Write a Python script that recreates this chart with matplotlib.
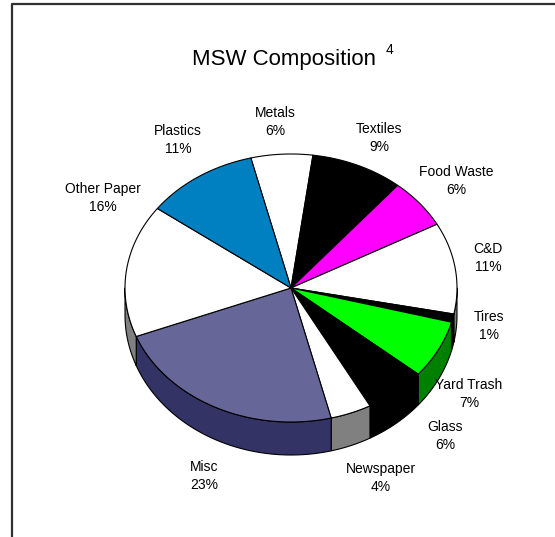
import numpy as np
import matplotlib
matplotlib.use("Agg")
import matplotlib.pyplot as plt
from matplotlib.patches import Polygon

plt.rcParams['font.family'] = ['Liberation Sans', 'DejaVu Sans']

# data
categories = ['Metals', 'Textiles', 'Food Waste', 'C&D', 'Tires', 'Yard Trash',
              'Glass', 'Newspaper', 'Misc', 'Other Paper', 'Plastics']
shares = [6, 9, 6, 11, 1, 7, 6, 4, 23, 16, 11]
top_colors = ['#FFFFFF', '#000000', '#FF00FF', '#FFFFFF', '#000000', '#00FF00',
              '#000000', '#FFFFFF', '#666699', '#FFFFFF', '#0080C0']
side_colors = ['#808080', '#000000', '#800080', '#808080', '#000000', '#008000',
               '#000000', '#808080', '#333366', '#808080', '#004060']

# label placement (pixels, centre of the two-line label)
label_xy = [(275, 122), (379, 138), (456, 181), (488, 258), (489, 326), (469, 394),
            (445, 436), (381, 478), (204, 476), (103, 198), (178, 140)]

# pie geometry in pixels
cx, cy, rx, ry = 291, 288, 166, 134
start = 104.0


def depth(t):
    return 27 + 6 * np.clip(-np.sin(t), 0, 1)


def rim(t, drop=False):
    x = cx + rx * np.cos(t)
    y = cy - ry * np.sin(t)
    if drop:
        y = y + depth(t)
    return x, y


fig = plt.figure(figsize=(5.55, 5.37), dpi=100)
ax = fig.add_axes([0, 0, 1, 1])
ax.set_xlim(0, 555)
ax.set_ylim(537, 0)
ax.axis('off')

# outer frame
ax.plot([12, 12, 560], [540, 4, 4], color='#303030', lw=1.6, solid_capstyle='butt')

edges = start - np.concatenate([[0], np.cumsum(shares)]) / sum(shares) * 360

# side walls (front half only)
for i in range(len(shares)):
    a, b = edges[i], edges[i + 1]
    for k in (-360, 0, 360):
        lo = max(b, -180 + k)
        hi = min(a, 0 + k)
        if hi - lo <= 0:
            continue
        t = np.radians(np.linspace(hi, lo, 80))
        x1, y1 = rim(t)
        x2, y2 = rim(t[::-1], drop=True)
        pts = np.column_stack([np.concatenate([x1, x2]), np.concatenate([y1, y2])])
        ax.add_patch(Polygon(pts, closed=True, facecolor=side_colors[i],
                             edgecolor='black', lw=0.8, joinstyle='round'))

# top faces
for i in range(len(shares)):
    t = np.radians(np.linspace(edges[i], edges[i + 1], 120))
    x, y = rim(t)
    pts = np.column_stack([np.concatenate([[cx], x]), np.concatenate([[cy], y])])
    ax.add_patch(Polygon(pts, closed=True, facecolor=top_colors[i],
                         edgecolor='black', lw=0.8, joinstyle='round'))

# labels
for name, val, (lx, ly) in zip(categories, shares, label_xy):
    ax.text(lx, ly, f'{name}\n{val}%', ha='center', va='center',
            fontsize=10, linespacing=1.35)

ax.text(284, 60, 'MSW Composition', ha='center', va='center', fontsize=16)
ax.text(389, 50, '4', ha='center', va='center', fontsize=10)

fig.savefig('out.png', dpi=100)
